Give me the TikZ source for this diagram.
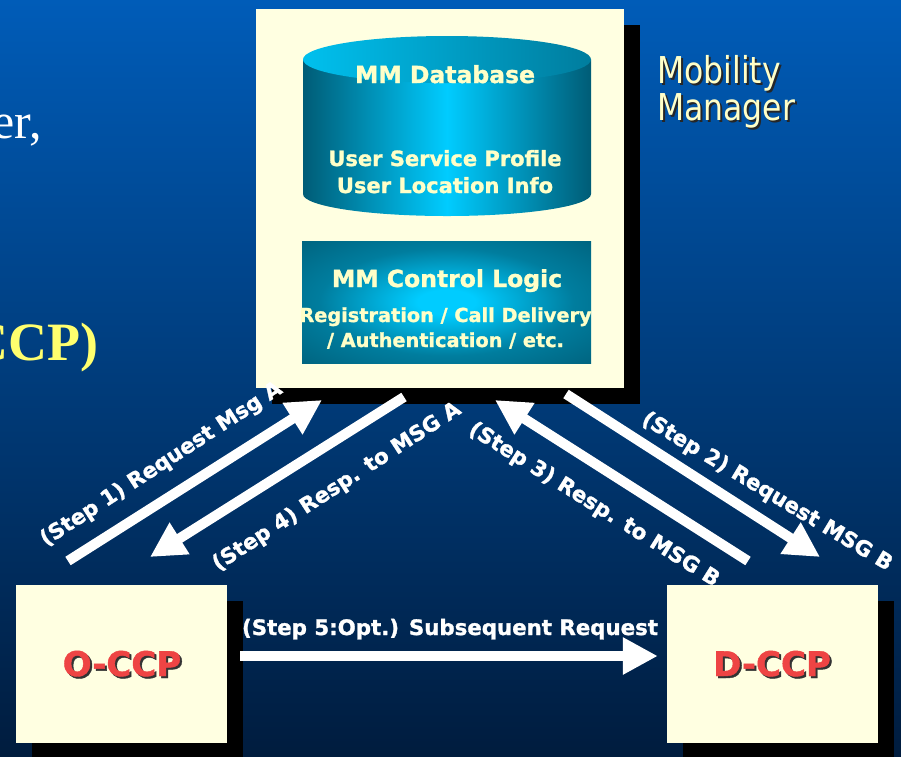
\documentclass[tikz,border=0pt]{standalone}
\usepackage{fontspec}
\newfontfamily\verd[BoldFeatures={FakeBold=1.3}]{DejaVu Sans}
\newfontfamily\tah[FakeStretch=0.85]{DejaVu Sans}
\newfontfamily\tnr{Liberation Serif}
\usetikzlibrary{arrows.meta,shadows}
\definecolor{bgtop}{RGB}{0,92,184}
\definecolor{bgmid}{RGB}{0,62,130}
\definecolor{bgbot}{RGB}{0,28,62}
\definecolor{cream}{RGB}{255,255,225}
\definecolor{txtcream}{RGB}{255,255,200}
\definecolor{tealdark}{RGB}{0,92,118}
\definecolor{tealmid}{RGB}{0,125,158}
\definecolor{cyanbright}{RGB}{0,204,255}
\definecolor{cyanlid}{RGB}{0,192,238}
\definecolor{ccpred}{RGB}{238,68,68}
\definecolor{titleyellow}{RGB}{255,255,110}
\pgfdeclareradialshading{logicshade}{\pgfpoint{0bp}{0bp}}{%
  color(0bp)=(cyanbright); color(5bp)=(cyanbright); color(22bp)=(tealmid); color(40bp)=(tealdark); color(80bp)=(tealdark)}
\begin{document}
\begin{tikzpicture}[x=1pt,y=-1pt,
  box/.style={fill=cream, draw=none, inner sep=0pt,
    drop shadow={shadow xshift=16pt, shadow yshift=-16pt, fill=black, opacity=1}},
  bigarrow/.style={draw=white, line width=10pt, -{Triangle[length=35pt,width=35pt]}},
  steplabel/.style={text=white, inner sep=0pt, font=\verd\bfseries\fontsize{21.3}{24}\selectfont},
  dbtitle/.style={text=txtcream, inner sep=0pt, anchor=base, font=\verd\bfseries\fontsize{23.5}{28}\selectfont},
  dbtext/.style={text=txtcream, inner sep=0pt, anchor=base, font=\verd\bfseries\fontsize{21}{28}\selectfont},
  logictext/.style={text=txtcream, inner sep=0pt, anchor=base, font=\verd\bfseries\fontsize{19.3}{25}\selectfont},
  mmlabel/.style={inner sep=0pt, anchor=base west, font=\tah\fontsize{37}{38}\selectfont},
  ccptext/.style={inner sep=0pt, anchor=base, font=\verd\bfseries\fontsize{34}{40}\selectfont}
]
\useasboundingbox (0,0) rectangle (901,756);
\clip (0,0) rectangle (901,756);
% background
\shade[top color=bgtop, middle color=bgmid, bottom color=bgbot] (0,0) rectangle (901,756);

% slide text cut at the left edge
\node[inner sep=0pt, anchor=base east, text=white, font=\tnr\fontsize{50}{60}\selectfont] (bodytxt) at (42,138) {er,};
\node[inner sep=0pt, anchor=base east, text=titleyellow, font=\tnr\bfseries\fontsize{54}{60}\selectfont] (titletxt) at (99,360) {CCP)};

% Mobility manager box
\node[box, minimum width=368pt, minimum height=379pt] (mm) at (440,198.5) {};

% cylinder (MM database)
\shade[left color=tealdark, right color=tealdark, middle color=cyanbright]
  (303,59.5) -- (303,194) arc[start angle=180, end angle=360, x radius=144pt, y radius=22pt] -- (591,59.5) -- cycle;
\shade[left color=cyanlid, right color=tealmid] (447,59.5) ellipse [x radius=144pt, y radius=23.5pt];
\node[dbtitle] (dbt) at (445,83) {MM Database};
\node[dbtext] (db1) at (445,166) {User Service Profile};
\node[dbtext] (db2) at (445,193) {User Location Info};

% control logic
\node[shade, shading=logicshade, minimum width=289pt, minimum height=122pt, inner sep=0pt] (logic) at (446.5,302) {};
\node[logictext, font=\verd\bfseries\fontsize{23.5}{28}\selectfont] (logict) at (447,287) {MM Control Logic};
\node[logictext] (logic1) at (445.5,322) {Registration / Call Delivery};
\node[logictext] (logic2) at (445.5,347) {/ Authentication / etc.};

% Mobility Manager label
\node[mmlabel, text=black!85] at (659,85) {Mobility};
\node[mmlabel, text=black!85] at (659,122) {Manager};
\node[mmlabel, text=txtcream] (mob) at (657,83) {Mobility};
\node[mmlabel, text=txtcream] (man) at (657,120) {Manager};

% CCP boxes
\node[box, minimum width=211pt, minimum height=158pt] (occp) at (121.5,664) {};
\node[box, minimum width=211pt, minimum height=158pt] (dccp) at (772.5,664) {};
\node[ccptext, text=black!80] at (124,678) {O-CCP};
\node[ccptext, text=ccpred] (occpt) at (122,676) {O-CCP};
\node[ccptext, text=black!80] at (774,678) {D-CCP};
\node[ccptext, text=ccpred] (dccpt) at (772,676) {D-CCP};

% arrow end points
\coordinate (s1a) at (68,561);  \coordinate (s1b) at (322,400);
\coordinate (s4a) at (404,397); \coordinate (s4b) at (150,557);
\coordinate (s3a) at (748,561); \coordinate (s3b) at (495,400);
\coordinate (s2a) at (566,394); \coordinate (s2b) at (820,557);
\draw[bigarrow] (s1a) -- (s1b);
\draw[bigarrow] (s4a) -- (s4b);
\draw[bigarrow] (s3a) -- (s3b);
\draw[bigarrow] (s2a) -- (s2b);
\draw[bigarrow] ([xshift=13pt,yshift=8pt]occp.east) -- ([xshift=-9pt,yshift=8pt]dccp.west);

% labels
\node[steplabel, rotate=33] (l1) at (161.5,464.5) {(Step 1) Request Msg A};
\node[steplabel, rotate=33] (l4) at (337,487) {(Step 4) Resp. to MSG A};
\node[steplabel, rotate=-32] (l3) at (594,505) {(Step 3) Resp. to MSG B};
\node[steplabel, rotate=-31] (l2) at (767,492) {(Step 2) Request MSG B};
\node[steplabel, anchor=base] (l5) at (450,635) {(Step 5:Opt.) Subsequent Request};
\end{tikzpicture}
\end{document}
